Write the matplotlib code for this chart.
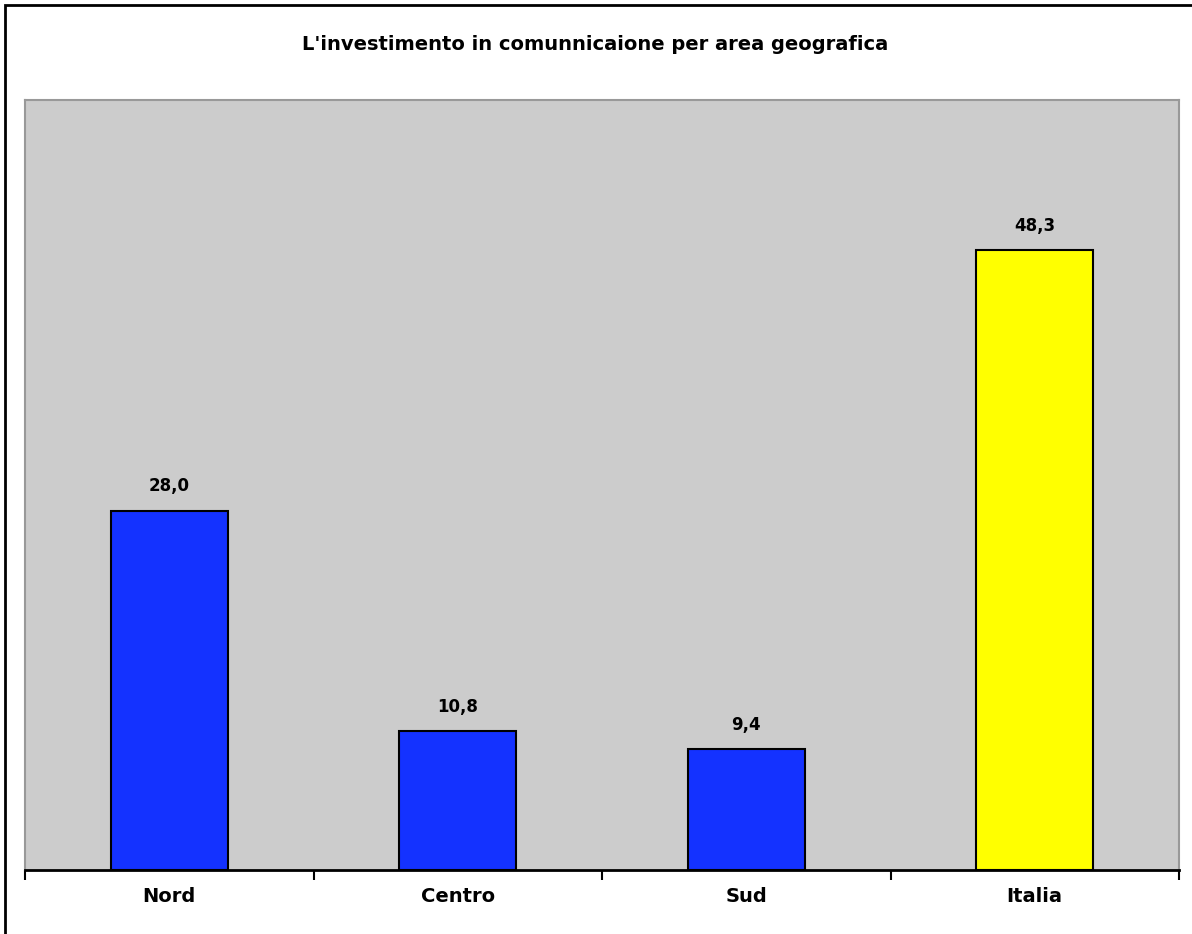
import matplotlib
matplotlib.use("Agg")
import matplotlib.pyplot as plt
from matplotlib.patches import Rectangle

categories = ["Nord", "Centro", "Sud", "Italia"]
values = [28.0, 10.8, 9.4, 48.3]
colors = ["#1432FF", "#1432FF", "#1432FF", "#FFFF00"]
title = "L'investimento in comunnicaione per area geografica"

plt.rcParams['font.family'] = ['DejaVu Sans']

fig = plt.figure(figsize=(11.92, 9.34), dpi=100)
fig.patch.set_facecolor("white")
ax = fig.add_axes([25/1192, 64/934, 1154/1192, 770/934])
ax.set_facecolor("#CCCCCC")

x = list(range(len(categories)))
bars = ax.bar(x, values, width=0.405, color=colors, edgecolor="black", linewidth=1.5, zorder=3)
for xi, v in zip(x, values):
    ax.annotate(f"{v:.1f}".replace(".", ","), (xi, v), xytext=(0, 11), textcoords="offset points",
                ha="center", va="bottom", fontsize=12, fontweight="bold")

ax.set_xlim(-0.5, 3.5)
ax.set_ylim(0, 60)
ax.set_yticks([])
ax.set_xticks([-0.5, 0.5, 1.5, 2.5, 3.5])
ax.set_xticklabels([])
ax.set_xticks(x, minor=True)
ax.set_xticklabels(categories, minor=True, fontsize=14, fontweight="bold")
ax.tick_params(axis="x", which="major", length=7, width=1.5, direction="out", color="black")
ax.tick_params(axis="x", which="minor", length=0, pad=12)
for s in ["left", "top", "right"]:
    ax.spines[s].set_color("#999999")
    ax.spines[s].set_linewidth(1.5)
ax.spines["bottom"].set_color("black")
ax.spines["bottom"].set_linewidth(2)

fig.text(595/1192, 1 - 45/934, title, ha="center", va="center", fontsize=14, fontweight="bold")

fig.patches.append(Rectangle((5/1192, -20/934), 1220/1192, 949/934, transform=fig.transFigure,
                             fill=False, edgecolor="black", linewidth=2))

fig.savefig("out.png", dpi=100)
